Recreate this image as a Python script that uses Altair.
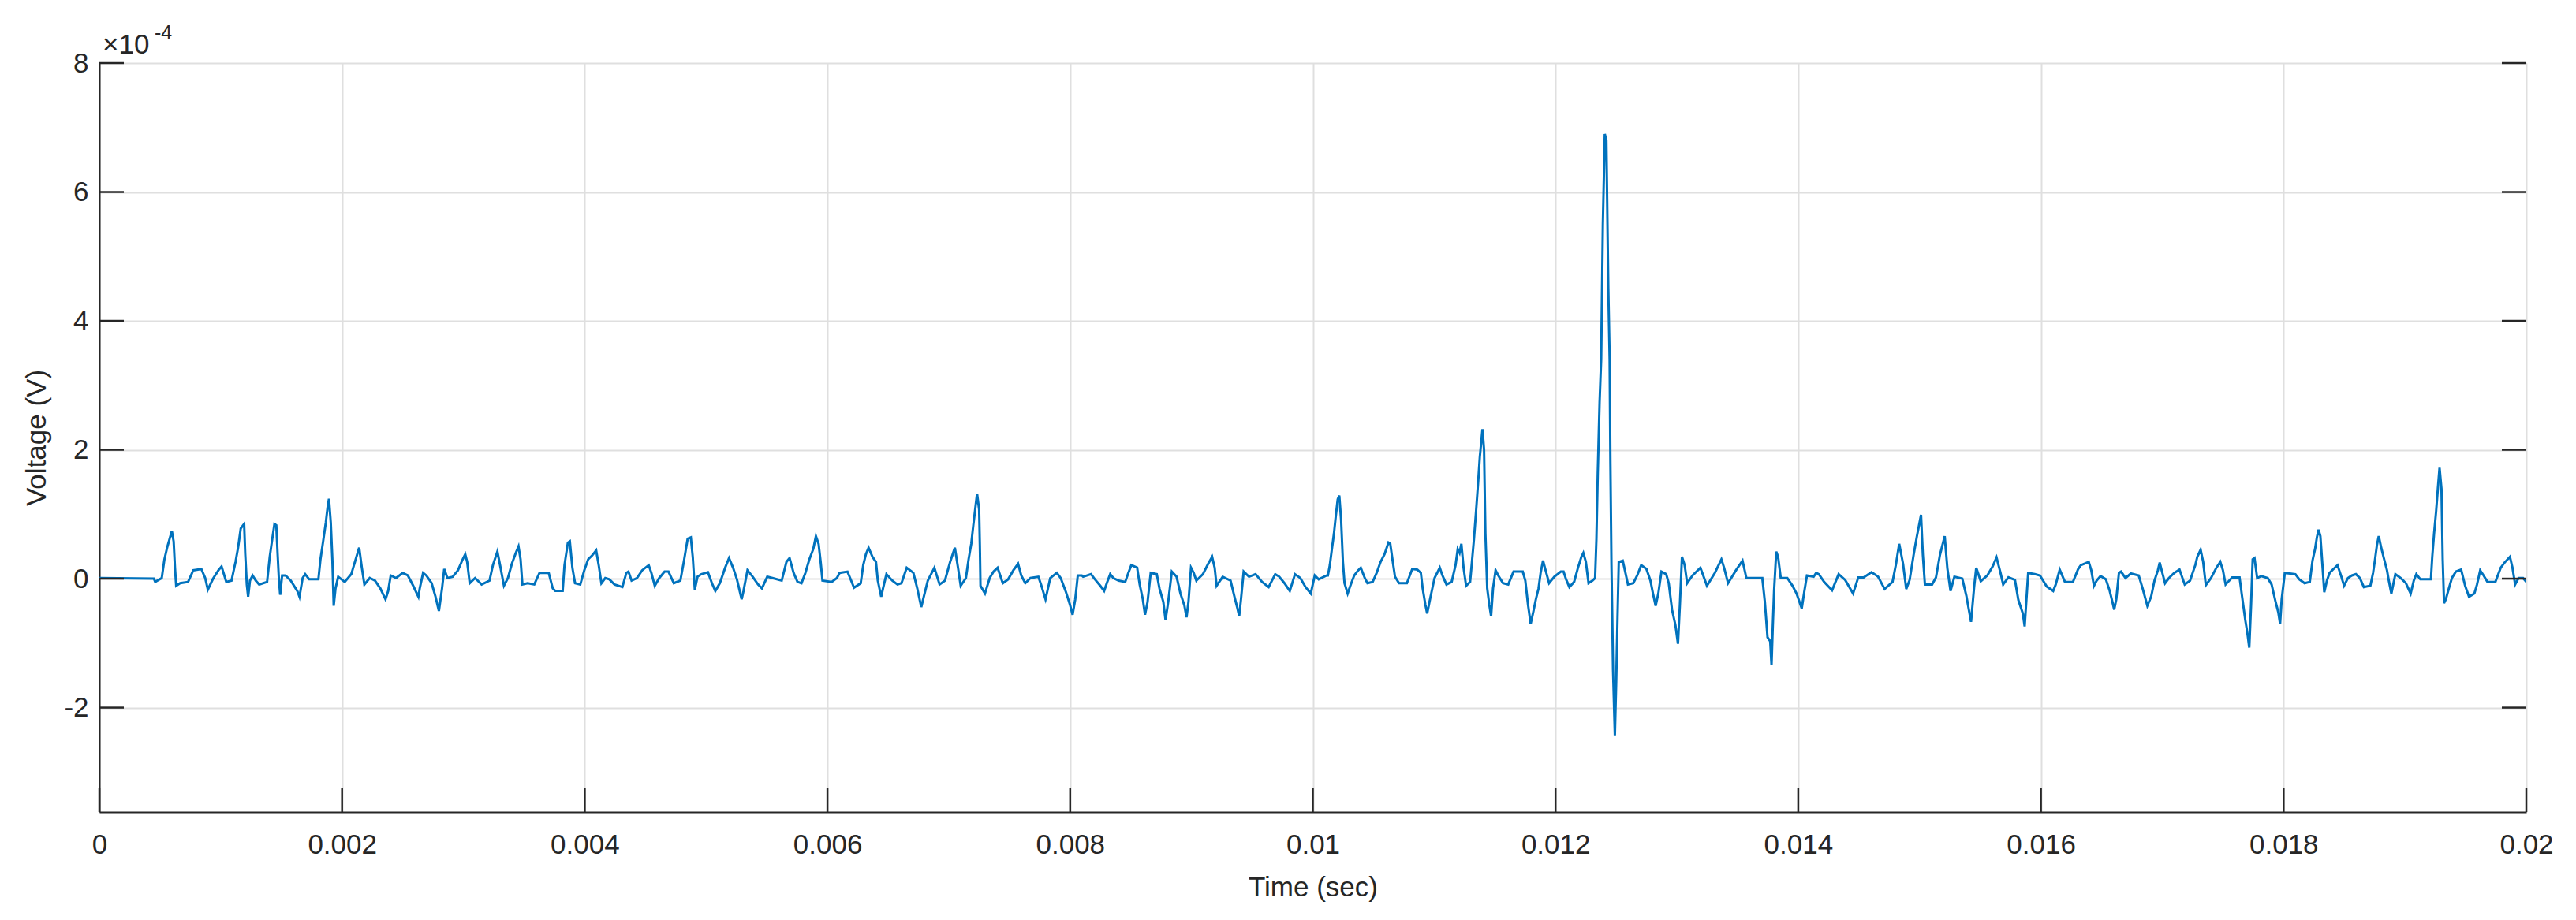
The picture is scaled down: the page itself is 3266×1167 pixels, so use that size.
import altair as alt
import pandas as pd

# ---- data (time in s, voltage in units of 1e-4 V) ----
seg_a = [(0.0, 0.01), (0.000449, 0.0), (0.000460, -0.05), (0.000514, 0.01), (0.000536, 0.30),
         (0.000558, 0.48), (0.000579, 0.62), (0.000597, 0.74), (0.000612, 0.58), (0.000623, 0.17),
         (0.000633, -0.11), (0.000666, -0.07), (0.000731, -0.05), (0.000774, 0.13), (0.000840, 0.15),
         (0.000872, 0.01), (0.000894, -0.17), (0.000937, 0.0), (0.000981, 0.13), (0.001007, 0.19),
         (0.001046, -0.05), (0.001089, -0.03), (0.001122, 0.26), (0.001143, 0.48), (0.001165, 0.78),
         (0.001193, 0.85), (0.001202, 0.38), (0.001215, -0.09), (0.001226, -0.28), (0.001241, -0.03),
         (0.001263, 0.05), (0.001289, -0.03), (0.001317, -0.09), (0.001382, -0.05), (0.001404, 0.34),
         (0.001425, 0.62), (0.001443, 0.85), (0.001458, 0.83), (0.001469, 0.38), (0.001479, 0.01),
         (0.001490, -0.25), (0.001506, 0.05), (0.001534, 0.05), (0.001577, -0.03), (0.001631, -0.19),
         (0.001649, -0.28), (0.001675, 0.01), (0.001696, 0.07), (0.001729, -0.01), (0.001805, -0.01),
         (0.001822, 0.30), (0.001844, 0.58), (0.001866, 0.87), (0.001881, 1.11), (0.001892, 1.24),
         (0.001907, 0.87), (0.001920, 0.30), (0.001931, -0.42), (0.001946, -0.15), (0.001968, 0.03)]

seg_b = [(0.002022, -0.05), (0.002076, 0.07), (0.002109, 0.28), (0.002141, 0.48), (0.002163, 0.17),
         (0.002184, -0.09), (0.002228, 0.01), (0.002271, -0.03), (0.002315, -0.15), (0.002358, -0.32),
         (0.002380, -0.19), (0.002401, 0.05), (0.002445, 0.01), (0.002499, 0.09), (0.002542, 0.05),
         (0.002586, -0.11), (0.002629, -0.28), (0.002640, -0.15), (0.002668, 0.09), (0.002694, 0.05),
         (0.002738, -0.07), (0.002770, -0.28), (0.002798, -0.50), (0.002824, -0.15), (0.002842, 0.15),
         (0.002868, 0.01), (0.002911, 0.03), (0.002955, 0.13), (0.002994, 0.30), (0.003015, 0.38),
         (0.003031, 0.26), (0.003052, -0.07), (0.003096, 0.01), (0.003150, -0.09), (0.003215, -0.03),
         (0.003243, 0.21), (0.003280, 0.42), (0.003302, 0.21), (0.003334, -0.11), (0.003367, 0.01),
         (0.003399, 0.23), (0.003432, 0.40), (0.003454, 0.50), (0.003471, 0.30), (0.003486, -0.09),
         (0.003529, -0.07), (0.003584, -0.09), (0.003627, 0.09), (0.003703, 0.09), (0.003736, -0.15),
         (0.003757, -0.19), (0.003818, -0.19), (0.003833, 0.21), (0.003861, 0.56), (0.003877, 0.58),
         (0.003898, 0.17), (0.003920, -0.07), (0.003963, -0.09), (0.003996, 0.13), (0.004028, 0.30),
         (0.004061, 0.36)]

seg_c = [(0.004094, 0.44), (0.004115, 0.21), (0.004137, -0.07), (0.004169, 0.01), (0.004202, -0.01),
         (0.004245, -0.09), (0.004310, -0.13), (0.004343, 0.09), (0.004360, 0.11), (0.004386, -0.03),
         (0.004430, 0.01), (0.004473, 0.13), (0.004527, 0.21), (0.004549, 0.09), (0.004577, -0.11),
         (0.004614, 0.01), (0.004658, 0.11), (0.004690, 0.11), (0.004734, -0.07), (0.004788, -0.03),
         (0.004816, 0.26), (0.004848, 0.62), (0.004874, 0.64), (0.004890, 0.34), (0.004907, -0.17),
         (0.004929, 0.03), (0.004961, 0.07), (0.005015, 0.10), (0.005048, -0.07), (0.005076, -0.19),
         (0.005113, -0.07), (0.005157, 0.17), (0.005189, 0.32), (0.005222, 0.17), (0.005254, -0.01),
         (0.005293, -0.32), (0.005308, -0.19), (0.005341, 0.13), (0.005384, 0.03), (0.005428, -0.09),
         (0.005460, -0.15), (0.005504, 0.03), (0.005547, 0.01), (0.005623, -0.03), (0.005662, 0.26),
         (0.005688, 0.32), (0.005721, 0.09), (0.005753, -0.05), (0.005786, -0.07), (0.005818, 0.09),
         (0.005851, 0.30), (0.005883, 0.46), (0.005905, 0.66), (0.005927, 0.54), (0.005944, 0.26),
         (0.005959, -0.03), (0.006035, -0.05), (0.006078, 0.01)]

seg_d = [(0.006100, 0.09), (0.006165, 0.11), (0.006187, 0.01), (0.006219, -0.14), (0.006274, -0.07),
         (0.006295, 0.21), (0.006317, 0.38), (0.006339, 0.48), (0.006371, 0.34), (0.006400, 0.26),
         (0.006415, -0.03), (0.006443, -0.28), (0.006458, -0.15), (0.006486, 0.07), (0.006534, -0.03),
         (0.006577, -0.09), (0.006610, -0.07), (0.006653, 0.17), (0.006708, 0.09), (0.006740, -0.15),
         (0.006773, -0.44), (0.006794, -0.28), (0.006827, -0.03), (0.006881, 0.17), (0.006924, -0.09),
         (0.006968, -0.03), (0.007011, 0.26), (0.007050, 0.48), (0.007076, 0.17), (0.007098, -0.11),
         (0.007141, 0.01), (0.007163, 0.30), (0.007185, 0.54), (0.007202, 0.83), (0.007217, 1.07),
         (0.007233, 1.32), (0.007250, 1.07), (0.007256, 0.50), (0.007261, -0.11), (0.007298, -0.23),
         (0.007337, 0.01), (0.007369, 0.11), (0.007402, 0.17), (0.007445, -0.07), (0.007489, -0.01),
         (0.007532, 0.13), (0.007571, 0.23), (0.007597, 0.05), (0.007630, -0.07), (0.007673, 0.01),
         (0.007738, 0.03), (0.007760, -0.09), (0.007797, -0.32), (0.007836, 0.01), (0.007890, 0.09),
         (0.007922, 0.01), (0.007966, -0.21), (0.007998, -0.40), (0.008020, -0.56), (0.008042, -0.32),
         (0.008063, 0.05), (0.008096, 0.05)]

seg_e = [(0.008107, 0.03), (0.008172, 0.07), (0.008204, -0.01), (0.008248, -0.11), (0.008280, -0.19),
         (0.008302, -0.07), (0.008330, 0.07), (0.008356, 0.01), (0.008400, -0.03), (0.008454, -0.05),
         (0.008476, 0.07), (0.008504, 0.21), (0.008552, 0.17), (0.008573, -0.09), (0.008599, -0.32),
         (0.008617, -0.56), (0.008638, -0.36), (0.008664, 0.09), (0.008714, 0.07), (0.008736, -0.15),
         (0.008768, -0.36), (0.008786, -0.64), (0.008808, -0.36), (0.008838, 0.11), (0.008877, 0.03),
         (0.008909, -0.23), (0.008942, -0.42), (0.008959, -0.60), (0.008975, -0.36), (0.008996, 0.17),
         (0.009018, 0.09), (0.009040, -0.03), (0.009094, 0.07), (0.009137, 0.23), (0.009170, 0.34),
         (0.009191, 0.17), (0.009207, -0.11), (0.009257, 0.03), (0.009322, -0.03), (0.009354, -0.28),
         (0.009376, -0.44), (0.009393, -0.58), (0.009408, -0.32), (0.009430, 0.11), (0.009474, 0.03),
         (0.009528, 0.07), (0.009582, -0.05), (0.009636, -0.13), (0.009690, 0.07), (0.009723, 0.03),
         (0.009766, -0.07), (0.009810, -0.19), (0.009853, 0.07), (0.009897, 0.01), (0.009940, -0.13),
         (0.009983, -0.23), (0.010016, 0.05), (0.010048, -0.01), (0.010114, 0.05)]

seg_f = [(0.010124, 0.05), (0.010140, 0.21), (0.010157, 0.46), (0.010174, 0.70), (0.010189, 0.97),
         (0.010205, 1.23), (0.010218, 1.29), (0.010233, 0.91), (0.010248, 0.26), (0.010261, -0.07),
         (0.010287, -0.23), (0.010309, -0.11), (0.010341, 0.05), (0.010374, 0.13), (0.010395, 0.17),
         (0.010428, 0.01), (0.010450, -0.07), (0.010493, -0.05), (0.010526, 0.09), (0.010558, 0.26),
         (0.010591, 0.38), (0.010623, 0.56), (0.010638, 0.54), (0.010656, 0.30), (0.010677, 0.03),
         (0.010710, -0.07), (0.010775, -0.07), (0.010819, 0.15), (0.010862, 0.14), (0.010890, 0.09),
         (0.010905, -0.15), (0.010927, -0.40), (0.010942, -0.54), (0.010970, -0.28), (0.011003, 0.01),
         (0.011046, 0.17), (0.011068, 0.05), (0.011101, -0.09), (0.011144, -0.05), (0.011176, 0.21),
         (0.011194, 0.46), (0.011209, 0.40), (0.011224, 0.54), (0.011242, 0.17), (0.011263, -0.11),
         (0.011296, -0.05), (0.011311, 0.26), (0.011328, 0.62), (0.011346, 1.07), (0.011363, 1.52),
         (0.011376, 1.89), (0.011398, 2.32), (0.011411, 2.00), (0.011422, 0.70), (0.011437, -0.15),
         (0.011454, -0.40), (0.011469, -0.58), (0.011485, -0.15), (0.011506, 0.13), (0.011528, 0.05),
         (0.011567, -0.07), (0.011610, -0.09), (0.011654, 0.11), (0.011730, 0.11), (0.011751, -0.03),
         (0.011773, -0.40), (0.011795, -0.70), (0.011816, -0.52), (0.011838, -0.32), (0.011860, -0.15),
         (0.011877, 0.09), (0.011897, 0.28), (0.011918, 0.13), (0.011947, -0.07), (0.011990, 0.03),
         (0.012044, 0.11), (0.012066, 0.11)]

seg_g = [(0.012087, -0.01), (0.012114, -0.13), (0.012153, -0.05), (0.012185, 0.17), (0.012213, 0.34),
         (0.012229, 0.40), (0.012250, 0.26), (0.012272, -0.07), (0.012304, -0.03), (0.012326, 0.01),
         (0.012337, 0.62), (0.012348, 1.64), (0.012363, 2.74), (0.012376, 3.40), (0.012390, 5.50),
         (0.012406, 6.90), (0.012419, 6.80), (0.012435, 4.50), (0.012446, 3.40), (0.012452, 1.84),
         (0.012461, 0.21), (0.012474, -1.42), (0.012489, -2.43), (0.012500, -1.60), (0.012511, -0.60),
         (0.012521, 0.26), (0.012554, 0.28), (0.012576, 0.09), (0.012597, -0.09), (0.012641, -0.07),
         (0.012673, 0.05), (0.012706, 0.21), (0.012749, 0.15), (0.012782, -0.03), (0.012803, -0.23),
         (0.012825, -0.42), (0.012847, -0.23), (0.012873, 0.11), (0.012912, 0.07), (0.012933, -0.07),
         (0.012960, -0.48), (0.012988, -0.72), (0.013009, -1.01), (0.013025, -0.40), (0.013042, 0.34),
         (0.013064, 0.21), (0.013085, -0.07), (0.013129, 0.05), (0.013194, 0.17), (0.013248, -0.11),
         (0.013313, 0.09), (0.013367, 0.30), (0.013389, 0.17), (0.013422, -0.07), (0.013487, 0.13),
         (0.013541, 0.28), (0.013573, 0.01), (0.013704, 0.01), (0.013725, -0.36), (0.013747, -0.91),
         (0.013769, -0.97), (0.013780, -1.34), (0.013790, -0.76), (0.013801, -0.19), (0.013819, 0.42),
         (0.013834, 0.34), (0.013856, 0.01), (0.013910, 0.01), (0.013953, -0.11), (0.013986, -0.23),
         (0.014029, -0.46), (0.014051, -0.19), (0.014072, 0.05), (0.014127, 0.03), (0.014148, 0.09)]

seg_h = [(0.014170, 0.07), (0.014213, -0.05), (0.014279, -0.18), (0.014333, 0.07), (0.014387, -0.02),
         (0.014452, -0.23), (0.014495, 0.02), (0.014539, 0.02), (0.014604, 0.10), (0.014658, 0.03),
         (0.014712, -0.16), (0.014777, -0.05), (0.014806, 0.23), (0.014832, 0.54), (0.014864, 0.23),
         (0.014890, -0.16), (0.014918, -0.02), (0.014951, 0.37), (0.014977, 0.65), (0.015012, 0.99),
         (0.015027, 0.37), (0.015044, -0.09), (0.015103, -0.09), (0.015135, 0.02), (0.015168, 0.37),
         (0.015207, 0.66), (0.015229, 0.16), (0.015255, -0.19), (0.015287, 0.03), (0.015352, 0.0),
         (0.015385, -0.26), (0.015424, -0.67), (0.015450, -0.12), (0.015467, 0.17), (0.015504, -0.04),
         (0.015558, 0.05), (0.015602, 0.19), (0.015634, 0.33), (0.015667, 0.09), (0.015689, -0.09),
         (0.015732, 0.02), (0.015786, -0.02), (0.015814, -0.33), (0.015851, -0.54), (0.015866, -0.74),
         (0.015895, 0.09), (0.015949, 0.07), (0.015992, 0.05), (0.016047, -0.12), (0.016101, -0.19)]

seg_i = [(0.016122, -0.09), (0.016155, 0.14), (0.016198, -0.05), (0.016264, -0.05), (0.016307, 0.15),
         (0.016329, 0.21), (0.016394, 0.26), (0.016415, 0.13), (0.016437, -0.11), (0.016459, -0.03),
         (0.016491, 0.04), (0.016535, -0.01), (0.016567, -0.19), (0.016589, -0.36), (0.016604, -0.48),
         (0.016621, -0.32), (0.016643, 0.09), (0.016660, 0.11), (0.016697, 0.01), (0.016741, 0.08),
         (0.016806, 0.05), (0.016838, -0.15), (0.016877, -0.42), (0.016908, -0.28), (0.016936, -0.03),
         (0.016964, 0.13), (0.016979, 0.25), (0.016995, 0.13), (0.017023, -0.07), (0.017055, 0.01),
         (0.017099, 0.09), (0.017142, 0.14), (0.017185, -0.09), (0.017229, -0.03), (0.017272, 0.21),
         (0.017289, 0.34), (0.017316, 0.45), (0.017337, 0.26), (0.017359, -0.10), (0.017402, 0.01),
         (0.017446, 0.17), (0.017478, 0.26), (0.017500, 0.13), (0.017522, -0.09), (0.017576, 0.02),
         (0.017637, 0.02), (0.017658, -0.28), (0.017684, -0.64), (0.017702, -0.85), (0.017717, -1.07),
         (0.017732, -0.40), (0.017745, 0.30), (0.017760, 0.32), (0.017782, 0.01), (0.017815, 0.04),
         (0.017869, 0.01), (0.017901, -0.09), (0.017934, -0.36), (0.017956, -0.52), (0.017971, -0.70),
         (0.017984, -0.32), (0.018010, 0.09), (0.018097, 0.07), (0.018129, -0.01), (0.018173, -0.07)]

seg_j = [(0.018216, -0.05), (0.018238, 0.28), (0.018259, 0.46), (0.018274, 0.64), (0.018288, 0.76),
         (0.018303, 0.66), (0.018318, 0.26), (0.018335, -0.21), (0.018357, -0.03), (0.018379, 0.09),
         (0.018411, 0.15), (0.018444, 0.21), (0.018476, 0.03), (0.018498, -0.11), (0.018530, 0.01),
         (0.018563, 0.05), (0.018596, 0.07), (0.018628, 0.01), (0.018661, -0.13), (0.018715, -0.11),
         (0.018737, 0.09), (0.018752, 0.28), (0.018769, 0.52), (0.018784, 0.66), (0.018802, 0.50),
         (0.018823, 0.34), (0.018852, 0.13), (0.018867, -0.03), (0.018888, -0.23), (0.018921, 0.07),
         (0.018964, 0.01), (0.019008, -0.07), (0.019047, -0.23), (0.019073, -0.03), (0.019094, 0.07),
         (0.019127, -0.01), (0.019214, -0.01), (0.019225, 0.34), (0.019240, 0.70), (0.019257, 1.05),
         (0.019272, 1.42), (0.019285, 1.72), (0.019301, 1.39), (0.019311, 0.30), (0.019322, -0.38),
         (0.019337, -0.32), (0.019359, -0.17), (0.019387, 0.01), (0.019420, 0.11), (0.019463, 0.14),
         (0.019496, -0.11), (0.019528, -0.28), (0.019572, -0.23), (0.019594, -0.09), (0.019620, 0.13),
         (0.019648, 0.05), (0.019680, -0.05), (0.019745, -0.05), (0.019789, 0.17), (0.019821, 0.25),
         (0.019865, 0.34), (0.019886, 0.17), (0.019908, -0.09), (0.019936, 0.01), (0.019973, 0.01),
         (0.020000, -0.05)]

X_TICKS = [0, 0.002, 0.004, 0.006, 0.008, 0.01, 0.012, 0.014, 0.016, 0.018, 0.02]
Y_TICKS = [-2, 0, 2, 4, 6, 8]
X_DOMAIN = [0, 0.02]
Y_DOMAIN = [-3.62, 8]

segments = [seg_a, seg_b, seg_c, seg_d, seg_e, seg_f, seg_g, seg_h, seg_i, seg_j]
signal = pd.DataFrame([{"t": t, "v": v} for seg in segments for (t, v) in seg])
xt = pd.DataFrame({"t": X_TICKS})
yt = pd.DataFrame({"v": Y_TICKS})

W, H = 3077, 950
FONT = "Liberation Sans"
INK = "#262626"
GRID = "#dfdfdf"
TICK_LEN = 31

xs = alt.Scale(domain=X_DOMAIN, nice=False, zero=False)
ys = alt.Scale(domain=Y_DOMAIN, nice=False, zero=False)

x_axis = alt.Axis(
    values=X_TICKS, labelExpr="toString(datum.value)", labelFlush=False, title="Time (sec)",
    grid=True, gridColor=GRID, gridWidth=2, ticks=False, tickSize=0,
    domainColor=INK, domainWidth=2,
    labelFont=FONT, labelFontSize=35, labelColor=INK, labelPadding=24,
    titleFont=FONT, titleFontSize=35, titleFontWeight="normal", titleColor=INK,
    titleY=95, titleBaseline="middle")
y_axis = alt.Axis(
    values=Y_TICKS, labelExpr="toString(datum.value)", labelFlush=False, title="Voltage (V)",
    grid=True, gridColor=GRID, gridWidth=2, ticks=False, tickSize=0,
    domainColor=INK, domainWidth=2,
    labelFont=FONT, labelFontSize=35, labelColor=INK, labelPadding=14,
    titleFont=FONT, titleFontSize=35, titleFontWeight="normal", titleColor=INK,
    titleX=-80, titleBaseline="middle")

line = alt.Chart(signal).mark_line(color="#0072BD", strokeWidth=3, clip=True).encode(
    x=alt.X("t:Q", scale=xs, axis=x_axis),
    y=alt.Y("v:Q", scale=ys, axis=y_axis),
    order="t:Q",
)

left_ticks = alt.Chart(yt).mark_rule(color=INK, strokeWidth=2.5).encode(
    y=alt.Y("v:Q", scale=ys, axis=y_axis), x=alt.value(0), x2=alt.value(TICK_LEN))
right_ticks = alt.Chart(yt).mark_rule(color=INK, strokeWidth=2.5).encode(
    y=alt.Y("v:Q", scale=ys, axis=y_axis), x=alt.value(W - TICK_LEN), x2=alt.value(W))
bottom_ticks = alt.Chart(xt).mark_rule(color=INK, strokeWidth=2.5).encode(
    x=alt.X("t:Q", scale=xs, axis=x_axis), y=alt.value(H), y2=alt.value(H - TICK_LEN))

exp_base = alt.Chart(pd.DataFrame({"s": ["\u00d710"]})).mark_text(
    align="left", baseline="alphabetic", font=FONT, fontSize=35, color=INK
).encode(text="s:N", x=alt.value(4), y=alt.value(-12))
exp_sup = alt.Chart(pd.DataFrame({"s": ["-4"]})).mark_text(
    align="left", baseline="alphabetic", font=FONT, fontSize=25, color=INK
).encode(text="s:N", x=alt.value(70), y=alt.value(-30))

chart = alt.layer(line, left_ticks, right_ticks, bottom_ticks, exp_base, exp_sup).properties(
    width=W, height=H,
    padding={"left": 118, "top": 72, "right": 40, "bottom": 120},
    autosize=alt.AutoSizeParams(type="none"),
).configure_view(stroke=GRID, strokeWidth=2).configure(background="white")

chart.save("out.html", embed_options={"renderer": "svg", "actions": False})
